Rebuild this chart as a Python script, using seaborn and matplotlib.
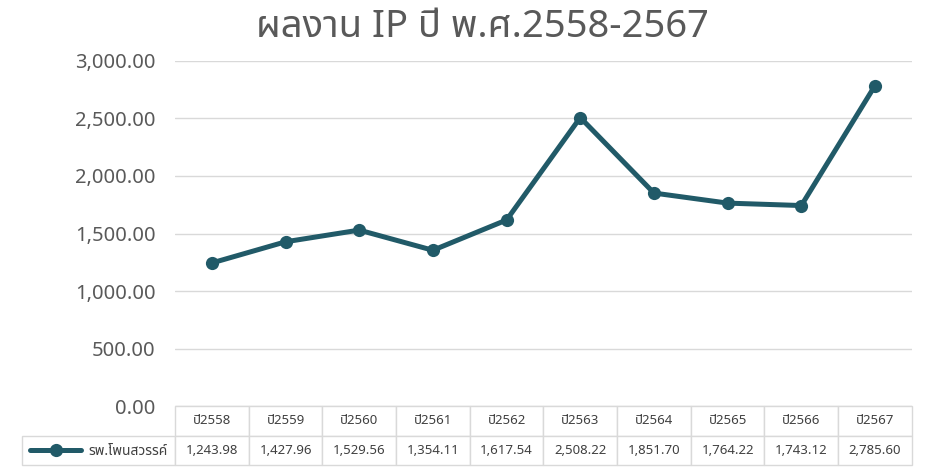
import matplotlib
matplotlib.use("Agg")
import matplotlib.pyplot as plt
import matplotlib.ticker as mticker
import seaborn as sns
import pandas as pd

years = ["ปี2558", "ปี2559", "ปี2560", "ปี2561", "ปี2562",
         "ปี2563", "ปี2564", "ปี2565", "ปี2566", "ปี2567"]
values = [1243.98, 1427.96, 1529.56, 1354.11, 1617.54,
          2508.22, 1851.70, 1764.22, 1743.12, 2785.60]
series_name = "รพ.โพนสวรรค์"
title = "ผลงาน IP ปี พ.ศ.2558-2567"

sns.set_theme(style="white")
plt.rcParams['font.family'] = ['Noto Sans Thai', 'Noto Sans Thai Looped', 'Loma', 'Garuda',
                               'Tlwg Typo', 'Norasi', 'Kinnari', 'DejaVu Sans']

line_color = "#215a68"
text_color = "#595959"
grid_color = "#d9d9d9"

df = pd.DataFrame({"pos": range(len(years)), "value": values})

fig = plt.figure(figsize=(9.41, 4.67), dpi=100)
ax = fig.add_axes([0.186, 0.1306, 0.783, 0.7388])

sns.lineplot(data=df, x="pos", y="value", ax=ax, color=line_color, linewidth=3.6,
             marker="o", markersize=9.5, markeredgewidth=0, label=series_name)

ax.set_xlim(-0.5, len(years) - 0.5)
ax.set_ylim(0, 3000)
ax.yaxis.set_major_locator(mticker.MultipleLocator(500))
ax.yaxis.set_major_formatter(mticker.StrMethodFormatter("{x:,.2f}"))
ax.grid(axis="y", color=grid_color, linewidth=1)
ax.set_axisbelow(True)
ax.set_xticks([])
ax.set_xlabel("")
ax.set_ylabel("")
ax.tick_params(axis="y", length=0, pad=14, labelsize=14.5, labelcolor=text_color)
for s in ax.spines.values():
    s.set_visible(False)

# data table under the plot; first column holds the legend key
cell_text = [[""] + [f"{v:,.2f}" for v in values]]
col_labels = [""] + years
widths = [153] + [73.7] * len(years)
widths = [w / sum(widths) for w in widths]
tbl = ax.table(cellText=cell_text, colLabels=col_labels, colWidths=widths,
               cellLoc="center", bbox=[-0.2076, -0.171, 1.2076, 0.171])
tbl.auto_set_font_size(False)
tbl.set_fontsize(9.5)
for (r, c), cell in tbl.get_celld().items():
    cell.set_edgecolor(grid_color)
    cell.set_linewidth(1)
    cell.get_text().set_color("#404040")
tbl[(0, 0)].set_visible(False)

leg = ax.legend(loc="center left", bbox_to_anchor=(-0.197, -0.1304), frameon=False,
                fontsize=10, handlelength=3.7, handletextpad=0.5, borderaxespad=0,
                borderpad=0)
for t in leg.get_texts():
    t.set_color("#404040")

fig.text(0.513, 0.942, title, ha="center", va="center", fontsize=27.5, color=text_color)

fig.savefig("out.png", dpi=100)
